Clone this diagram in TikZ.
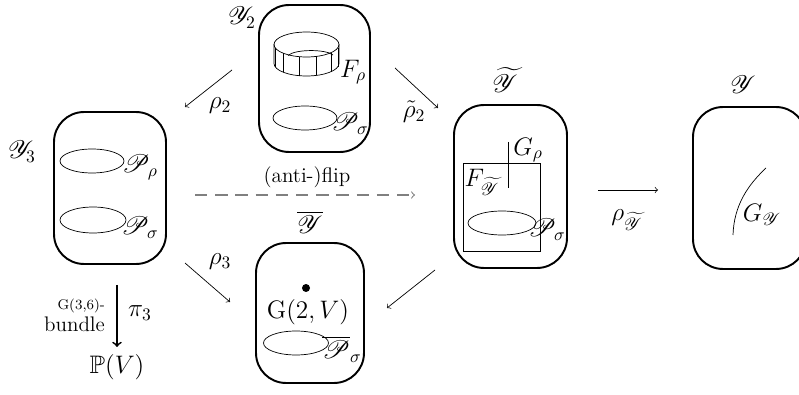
\documentclass[tikz,border=0pt]{standalone}
\usepackage{amssymb}
\usepackage{amsmath}
\usepackage{mathrsfs}
\usepackage{tikz}
\usetikzlibrary{calc}

\begin{document}
\begin{tikzpicture}[x=0.02cm, y=-0.02cm,
		blob/.style={draw, line width=1.1pt, rounded corners=0.6cm, inner sep=0pt},
		lbl/.style={font=\Large, inner sep=1pt},
		map/.style={->, thin}]
		\useasboundingbox (0,0) rectangle (799,395);
		\node[blob, minimum width=2.22cm, minimum height=2.94cm] (Y2) at (314.5,78.5) {};
		\node[blob, minimum width=2.24cm, minimum height=3.04cm] (Y3) at (110,188) {};
		\node[blob, minimum width=2.16cm, minimum height=2.80cm] (Yb) at (310,313) {};
		\node[blob, minimum width=2.26cm, minimum height=3.26cm] (Yt) at (510.5,186.5) {};
		\node[blob, minimum width=2.26cm, minimum height=3.24cm] (Y) at (749.5,188) {};
		\node[lbl] (nY2) at (242,18) {$\mathscr{Y}_2$};
		\node[lbl] (nY3) at (22,152) {$\mathscr{Y}_3$};
		\node[lbl] (nYb) at (310,222) {$\overline{\mathscr{Y}}$};
		\node[lbl] (nYt) at (505,80) {$\widetilde{\mathscr{Y}}$};
		\node[lbl] (nY) at (743,85) {$\mathscr{Y}$};
		\draw (274,44.5) -- (274,63.5) .. controls (274,70.4) and (288.55,76) .. (306.5,76)
			.. controls (324.45,76) and (339,70.4) .. (339,63.5) -- (339,44.5);
		\draw (306.5,44.5) ellipse [x radius=0.65cm, y radius=0.25cm];
		\draw (288,55.5) .. controls (295,49) and (326,49) .. (333,55);
		\foreach \x/\y in {275.3/48, 283/53.1, 299.7/56.7, 316.3/56.4, 331.3/52.6, 338/47.6}
		\draw (\x,\y) -- ++(0,19);
		\node[lbl] (Fr) at (353,72) {$F_\rho$};
		\draw (305,118) ellipse [x radius=0.64cm, y radius=0.24cm];
		\node[lbl] (Ps2) at (350,124) {$\mathscr{P}_\sigma$};
		\draw (92,161) ellipse [x radius=0.64cm, y radius=0.24cm];
		\node[lbl] (Pr3) at (140,167) {$\mathscr{P}_\rho$};
		\draw (93,220) ellipse [x radius=0.66cm, y radius=0.26cm];
		\node[lbl] (Ps3) at (140,228) {$\mathscr{P}_\sigma$};
		\fill (306,288) circle [radius=0.08cm];
		\node[lbl] (G2V) at (308,312) {$\mathrm{G}(2,V)$};
		\draw (296,343) ellipse [x radius=0.65cm, y radius=0.24cm];
		\node[lbl] (Psb) at (342,349) {$\overline{\mathscr{P}}_\sigma$};
		\draw (463,163) rectangle (540,251);
		\draw (508,142) -- (508,188);
		\node[lbl] (Gr) at (528,150) {$G_\rho$};
		\node[lbl] (Ft) at (482,182) {$F_{\widetilde{\mathscr{Y}}}$};
		\draw (502,223) ellipse [x radius=0.68cm, y radius=0.24cm];
		\node[lbl] (Pst) at (547,230) {$\mathscr{P}_\sigma$};
		\draw (733,235) .. controls (734,205) and (748,185) .. (766,168);
		\node[lbl] (GY) at (762,215) {$G_{\mathscr{Y}}$};
		\coordinate (a1) at (232,70);
		\coordinate (a2) at (185,107);
		\coordinate (b1) at (395,68);
		\coordinate (b2) at (438,108);
		\coordinate (c1) at (185,263);
		\coordinate (c2) at (230,302);
		\coordinate (d1) at (435,270);
		\coordinate (d2) at (387,308);
		\coordinate (e1) at (195,195);
		\coordinate (e2) at (415,195);
		\coordinate (f1) at (598,190);
		\coordinate (f2) at (658,190);
		\coordinate (g1) at (117,285);
		\coordinate (g2) at (117,347);
		\draw[map] (a1) -- (a2);
		\draw[map] (b1) -- (b2);
		\draw[map] (c1) -- (c2);
		\draw[map] (d1) -- (d2);
		\draw[map] (f1) -- (f2);
		\draw[->, gray, line width=0.6pt, dash pattern=on 7pt off 4.5pt] (e1) -- (e2);
		\draw[->, line width=1pt] (g1) -- (g2);
		\node[lbl] (r2) at (220,106) {$\rho_2$};
		\node[lbl] (rt2) at (414,112) {$\tilde{\rho}_2$};
		\node[lbl] (r3) at (220,262) {$\rho_3$};
		\node[lbl] (rt) at (627,220) {$\rho_{\widetilde{\mathscr{Y}}}$};
		\node[font=\large] (flip) at (307,177) {(anti-)flip};
		\node[lbl] (p3) at (140,313) {$\pi_3$};
		\node[font=\footnotesize, anchor=east, inner sep=1pt] (gb) at (107,306) {G(3,6)-};
		\node[font=\large, anchor=east, inner sep=1pt] (bd) at (107,324) {bundle};
		\node[lbl] (PV) at (117,367) {$\mathbb{P}(V)$};
	\end{tikzpicture}
\end{document}
